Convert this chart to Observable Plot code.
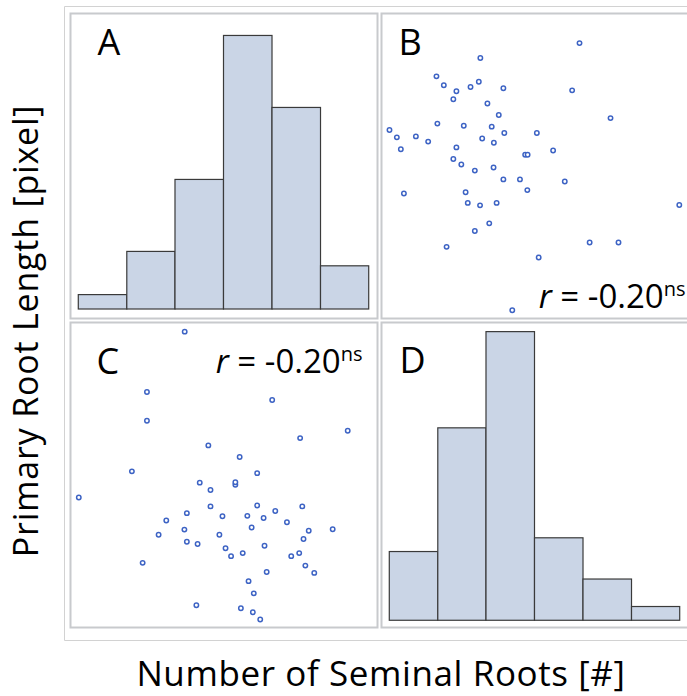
<!DOCTYPE html>
<html><head><meta charset="utf-8">
<script src="https://cdn.jsdelivr.net/npm/d3@7"></script>
<script src="https://cdn.jsdelivr.net/npm/@observablehq/plot@0.6"></script>
<style>
html,body{margin:0;padding:0;background:#fff;overflow:hidden;}
#root{position:relative;width:687px;height:696px;overflow:hidden;font-family:"Open Sans",sans-serif;}
.panel{position:absolute;}
</style></head><body><div id="root"></div>
<script>
// Scatter data (relative units; panel C is its transpose)
const seminalRoots = [64.5, 32.2, 17.9, 20.3, 24.4, 23.4, 29.0, 31.7, 39.7, 62.1, 34.5, 38.2, 74.6, 18.2, 26.8, 35.9, 40.0, 50.6, 2.6, 5.0, 11.2, 15.2, 6.3, 32.8, 36.6, 24.4, 55.9, 46.8, 47.6, 23.4, 26.0, 30.4, 36.5, 39.7, 45.1, 59.7, 47.5, 7.3, 27.4, 28.1, 32.1, 37.5, 97.0, 35.1, 30.4, 67.8, 77.2, 21.2, 51.2, 42.6];
const primaryRootLength = [90.3, 85.4, 79.4, 76.5, 74.5, 71.9, 75.9, 77.6, 75.5, 74.8, 70.5, 66.7, 65.7, 63.9, 63.2, 62.9, 60.8, 60.8, 61.8, 59.4, 59.7, 58.0, 55.5, 59.0, 57.6, 56.1, 55.1, 53.7, 53.7, 52.3, 50.5, 48.5, 49.5, 45.6, 45.6, 44.9, 42.1, 41.0, 41.4, 37.9, 37.1, 37.9, 37.2, 31.2, 28.7, 24.9, 24.9, 23.5, 20.0, 2.7];
// Histogram data
const binEdges = [2.7, 18.5, 34.2, 50.0, 65.8, 81.6, 97.3];
const lengthCounts = [1, 4, 9, 19, 14, 3];
const rootCounts = [5, 14, 21, 6, 3, 1];
// Text
const panelLetters = ["A", "B", "C", "D"];
const rLabel = "r = -0.20ns";
const xTitle = "Number of Seminal Roots [#]";
const yTitle = "Primary Root Length [pixel]";

const pairs = seminalRoots.map((s, i) => ({sr: s, prl: primaryRootLength[i]}));
const bins = counts => counts.map((c, i) => ({x1: binEdges[i], x2: binEdges[i + 1], count: c}));

const W = 311, H = 309, M = 2;
const FRAME = "#c8cacd", DOT = "#3d63c4", BAR_FILL = "#cad5e6", BAR_STROKE = "#3a3a3a";
const FONT = "'Open Sans', sans-serif";

const root = document.getElementById("root");

// background overlay: outer frame + axis titles
const bg = d3.create("svg").attr("width", 687).attr("height", 696)
  .style("position", "absolute").style("left", 0).style("top", 0);
bg.append("path").attr("d", "M700,6.5H64.5V640.5H700").attr("fill", "none").attr("stroke", "#d2d2d2").attr("stroke-width", 1);
bg.append("text").attr("x", 381).attr("y", 686).attr("text-anchor", "middle")
  .attr("font-family", FONT).attr("font-size", 35).attr("letter-spacing", 0.6).attr("fill", "#000").text(xTitle);
bg.append("text").attr("transform", "translate(38,331) rotate(-90)").attr("text-anchor", "middle")
  .attr("font-family", FONT).attr("font-size", 34).attr("letter-spacing", 0.8).attr("fill", "#000").text(yTitle);
root.appendChild(bg.node());

function letterMark(letter, dx, dy) {
  return Plot.text([letter], {text: d => d, frameAnchor: "top-left", textAnchor: "start", lineAnchor: "bottom",
    dx, dy, fontSize: 36, fill: "#000", fontFamily: FONT});
}
function rMark(anchor, dx, dy) {
  return Plot.text([rLabel], {text: d => d, frameAnchor: anchor, textAnchor: "end", lineAnchor: "bottom",
    dx, dy, fontSize: 33, fill: "#000", fontFamily: FONT});
}
function panel(left, top, yDomain, marks) {
  const svg = Plot.plot({
    width: W, height: H, margin: M,
    x: {axis: null, domain: [0, 100]},
    y: {axis: null, domain: yDomain},
    style: {background: "transparent", fontFamily: FONT, overflow: "visible"},
    marks: [...marks, Plot.frame({stroke: FRAME, strokeWidth: 2})]
  });
  svg.classList.add("panel");
  svg.style.left = left + "px";
  svg.style.top = top + "px";
  // rich text for r label
  svg.querySelectorAll("text").forEach(t => {
    if (t.textContent === rLabel) {
      t.textContent = "";
      const ns = "http://www.w3.org/2000/svg";
      const a = document.createElementNS(ns, "tspan"); a.setAttribute("font-style", "italic"); a.textContent = "r";
      const b = document.createElementNS(ns, "tspan"); b.textContent = " = -0.20";
      const c = document.createElementNS(ns, "tspan"); c.setAttribute("font-size", "20"); c.setAttribute("dy", "-12"); c.textContent = "ns";
      t.append(a, b, c);
    }
  });
  root.appendChild(svg);
}

const histStyle = {x1: "x1", x2: "x2", y: "count", fill: BAR_FILL, stroke: BAR_STROKE, strokeWidth: 1.2};
const dotStyle = {r: 2.2, stroke: DOT, strokeWidth: 1.5, fill: "white"};

// A: histogram of primary root length
panel(68, 11, [-0.625, 20.56], [
  Plot.rectY(bins(lengthCounts), histStyle),
  letterMark(panelLetters[0], 27, 41)
]);
// B: x = seminal roots, y = primary root length
panel(379, 11, [0, 100], [
  Plot.dot(pairs, {x: "sr", y: "prl", ...dotStyle}),
  letterMark(panelLetters[1], 17, 41),
  rMark("bottom-right", -3, -11)
]);
// C: x = primary root length, y = seminal roots
panel(68, 320, [0, 100], [
  Plot.dot(pairs, {x: "prl", y: "sr", ...dotStyle}),
  letterMark(panelLetters[2], 26, 51),
  rMark("top-right", -15, 50)
]);
// D: histogram of seminal roots
panel(379, 320, [-0.49, 21.7], [
  Plot.rectY(bins(rootCounts), histStyle),
  letterMark(panelLetters[3], 18, 50)
]);
</script></body></html>
